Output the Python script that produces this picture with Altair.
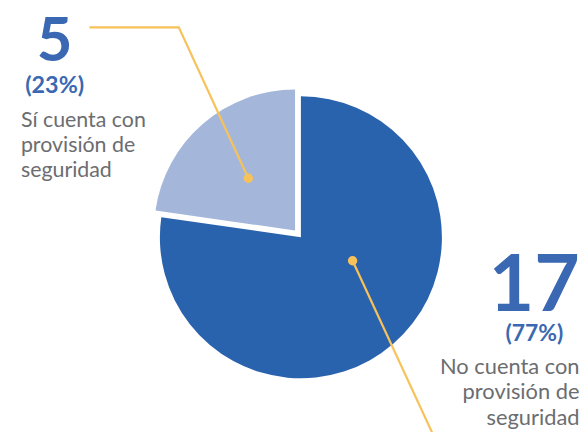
import altair as alt
import pandas as pd
import math

# ---- data ----
categories = ["No cuenta con provisión de seguridad", "Sí cuenta con provisión de seguridad"]
values = [17, 5]
slice_colors = ["#2A63AD", "#A4B7DA"]
number_labels = ["17", "5"]
label_lines = [["No cuenta con", "provisión de", "seguridad"],
               ["Sí cuenta con", "provisión de", "seguridad"]]

total = sum(values)
pct_labels = [f"({round(v / total * 100)}%)" for v in values]

# ---- layout (page pixel coordinates) ----
W, H = 576, 424
CX, CY, R, EXPLODE = 300, 234, 142, 4.5
xs = alt.Scale(domain=[8, 8 + W], range=[0, W])
ys = alt.Scale(domain=[8, 8 + H], range=[0, H])
BLUE_TXT = "#3A68B2"
GRAY_TXT = "#6B6D70"
LEADER = "#F7C25A"
FONT = "Lato"

pie_df = pd.DataFrame({"cat": categories, "value": values, "order": range(len(values))})

arcs = alt.Chart(pie_df).transform_window(
    cum="sum(value)", sort=[alt.SortField("order")], frame=[None, 0]
).transform_calculate(
    t0="datum.cum - datum.value",
    mid=f"(datum.cum - datum.value/2) / {total} * 2 * PI",
).transform_calculate(
    cx=f"{CX} + {EXPLODE} * sin(datum.mid)",
    cy=f"{CY} - {EXPLODE} * cos(datum.mid)",
).mark_arc(radius=R, stroke=None).encode(
    x=alt.X("cx:Q", scale=xs, axis=None),
    y=alt.Y("cy:Q", scale=ys, axis=None),
    theta=alt.Theta("t0:Q", scale=alt.Scale(domain=[0, total], range=[0, 2 * math.pi]), stack=None),
    theta2=alt.Theta2("cum:Q"),
    color=alt.Color("cat:N", scale=alt.Scale(domain=categories, range=slice_colors), legend=None),
)

# leader lines (annotation anchors)
leader_df = pd.DataFrame({
    "grp": ["a", "a", "a", "b", "b"],
    "seq": [0, 1, 2, 0, 1],
    "x": [90, 180, 250, 355, 436],
    "y": [26, 26, 178, 261, 436],
})
leaders = alt.Chart(leader_df).mark_line(color=LEADER, strokeWidth=2.2).encode(
    x=alt.X("x:Q", scale=xs, axis=None),
    y=alt.Y("y:Q", scale=ys, axis=None),
    detail="grp:N",
    order="seq:Q",
)
dots_df = pd.DataFrame({"x": [250, 355], "y": [178, 261]})
dots = alt.Chart(dots_df).mark_circle(color=LEADER, opacity=1, size=90).encode(
    x=alt.X("x:Q", scale=xs, axis=None),
    y=alt.Y("y:Q", scale=ys, axis=None),
)

def txt(text, x, y, size, color, align="center", bold=False, line_height=None):
    d = pd.DataFrame({"x": [x], "y": [y]})
    kw = dict(fontSize=size, color=color, align=align, baseline="alphabetic",
              font=FONT, fontWeight="bold" if bold else "normal")
    if line_height:
        kw["lineHeight"] = line_height
    return alt.Chart(d).mark_text(**kw).encode(
        x=alt.X("x:Q", scale=xs, axis=None),
        y=alt.Y("y:Q", scale=ys, axis=None),
        text=alt.value(text),
    )

texts = [
    txt(number_labels[1], 55, 60, 62, BLUE_TXT, bold=True),
    txt(pct_labels[1], 55, 92, 23.5, BLUE_TXT, bold=True),
    txt(label_lines[1], 21, 126, 21.5, GRAY_TXT, align="left", line_height=25.5),
    txt(number_labels[0], 538, 312, 79, BLUE_TXT, bold=True),
    txt(pct_labels[0], 538, 341.5, 23, BLUE_TXT, bold=True),
    txt(label_lines[0], 583.5, 375, 22, GRAY_TXT, align="right", line_height=25.5),
]

chart = alt.layer(arcs, leaders, dots, *texts).properties(
    width=W, height=H, autosize=alt.AutoSizeParams(type="none"), padding=0
).configure_view(stroke=None)

chart.save("out.html", embed_options={"renderer": "svg", "actions": False})
